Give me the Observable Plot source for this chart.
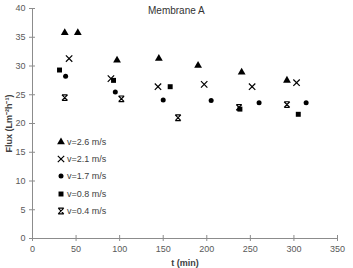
<!DOCTYPE html>
<html><head><meta charset="utf-8">
<script src="https://cdn.jsdelivr.net/npm/d3@7"></script>
<script src="https://cdn.jsdelivr.net/npm/@observablehq/plot@0.6"></script>
<style>
body{margin:0;background:#fff;}
#wrap{position:relative;width:353px;height:268px;font-family:"Liberation Sans",Arial,sans-serif;}
#title{position:absolute;left:148px;top:5px;font-size:10px;color:#333;white-space:nowrap;}
#legend{position:absolute;left:56px;top:133px;font-size:9px;color:#404040;}
.row{height:17.3px;display:flex;align-items:center;}
.row svg{margin-right:1px;}
</style></head>
<body><div id="wrap"><div id="title">Membrane A</div><div id="legend"></div></div>
<script>
const seriesNames = ["v=2.6 m/s","v=2.1 m/s","v=1.7 m/s","v=0.8 m/s","v=0.4 m/s"];
const v26_t = [37, 52, 97, 145, 190, 240, 292];
const v26_f = [35.8, 35.8, 31.0, 31.3, 30.1, 28.9, 27.5];
const v21_t = [42, 90, 144, 197, 252, 303];
const v21_f = [31.3, 27.8, 26.4, 26.8, 26.4, 27.1];
const v17_t = [38, 95, 150, 205, 260, 314];
const v17_f = [28.2, 25.5, 24.1, 24.0, 23.6, 23.6];
const v08_t = [31, 93, 158, 238, 305];
const v08_f = [29.3, 27.5, 26.4, 22.5, 21.6];
const v04_t = [37, 102, 167, 237, 292];
const v04_f = [24.5, 24.3, 21.0, 22.8, 23.3];
const xTicks = [0,50,100,150,200,250,300,350];
const yTicks = [0,5,10,15,20,25,30,35,40];

const hourglass = {draw(ctx, size){const r=Math.sqrt(size/Math.PI);
  ctx.moveTo(-r,-r);ctx.lineTo(r,r);ctx.moveTo(r,-r);ctx.lineTo(-r,r);
  ctx.moveTo(-r,-r);ctx.lineTo(r,-r);ctx.moveTo(-r,r);ctx.lineTo(r,r);}};
const timesSym = {draw(ctx, size){const r=Math.sqrt(size/Math.PI);
  ctx.moveTo(-r,-r);ctx.lineTo(r,r);ctx.moveTo(r,-r);ctx.lineTo(-r,r);}};

const toRows = (t,f) => t.map((x,i)=>({t:x, f:f[i]}));
const specs = [
  {data: toRows(v26_t,v26_f), symbol:"triangle", r:2.9, fill:"black", stroke:"none"},
  {data: toRows(v21_t,v21_f), symbol:timesSym, r:3.2, fill:"none", stroke:"black"},
  {data: toRows(v17_t,v17_f), symbol:"circle", r:2.5, fill:"black", stroke:"none"},
  {data: toRows(v08_t,v08_f), symbol:"square", r:2.8, fill:"black", stroke:"none"},
  {data: toRows(v04_t,v04_f), symbol:hourglass, r:2.8, fill:"none", stroke:"black"},
];

const axisColor = "#8c8c8c";
const plot = Plot.plot({
  width: 353, height: 268,
  marginLeft: 32, marginRight: 16, marginTop: 8, marginBottom: 30,
  style: {fontFamily: "Liberation Sans, Arial, sans-serif", fontSize: "9px", color: "#595959", background: "transparent"},
  x: {domain: [0,350]},
  y: {domain: [0,40]},
  marks: [
    Plot.ruleY([0], {stroke: axisColor}),
    Plot.ruleX([0], {stroke: axisColor}),
    Plot.axisX({ticks: xTicks, tickSize: 3, stroke: axisColor, tickPadding: 4, label: "t (min)", labelArrow: "none", labelAnchor: "center", labelOffset: 27}),
    Plot.axisX({ticks: xTicks, tickSize: -3, stroke: axisColor, tickFormat: () => "", label: null}),
    Plot.axisY({ticks: yTicks, tickSize: 3, stroke: axisColor, tickPadding: 4, label: "Flux (Lm⁻²h⁻¹)", labelArrow: "none", labelAnchor: "center", labelOffset: 27}),
    Plot.axisY({ticks: yTicks, tickSize: -3, stroke: axisColor, tickFormat: () => "", label: null}),
    ...specs.map(s => Plot.dot(s.data, {x: "t", y: "f", symbol: () => s.symbol, r: s.r, fill: s.fill, stroke: s.stroke, strokeWidth: 1.2}))
  ]
});
plot.style.position = "absolute"; plot.style.left = "0"; plot.style.top = "0";
plot.querySelectorAll('[aria-label="x-axis label"] text, [aria-label="y-axis label"] text').forEach(t=>{t.style.fontWeight="bold";t.setAttribute("fill","#404040");});
document.getElementById("wrap").prepend(plot);

// legend
const leg = document.getElementById("legend");
specs.forEach((s,i)=>{
  const row = document.createElement("div"); row.className="row";
  const sv = d3.create("svg").attr("width",10).attr("height",10);
  const size = Math.PI*s.r*s.r;
  const sym = typeof s.symbol === "string" ? {triangle:d3.symbolTriangle,circle:d3.symbolCircle,square:d3.symbolSquare}[s.symbol] : s.symbol;
  sv.append("path").attr("transform","translate(5,5)").attr("d", d3.symbol(sym, size)()).attr("fill", s.fill).attr("stroke", s.stroke).attr("stroke-width",1.2);
  row.appendChild(sv.node());
  const sp = document.createElement("span"); sp.textContent = seriesNames[i]; row.appendChild(sp);
  leg.appendChild(row);
});
</script></body></html>
